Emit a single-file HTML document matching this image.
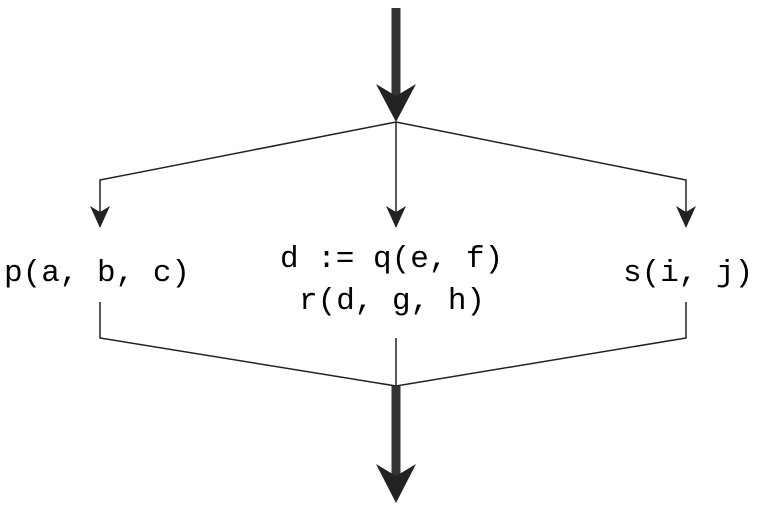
<!DOCTYPE html>
<html><head><style>
html,body{margin:0;padding:0;background:#fff;width:760px;height:510px;overflow:hidden}
text{font-family:"Liberation Mono",monospace;font-size:31px;fill:#000}
</style></head><body>
<svg width="760" height="510" viewBox="0 0 760 510" xmlns="http://www.w3.org/2000/svg">
<g stroke="#222" fill="none" stroke-width="1.5">
<polyline points="100,218 100,180 396,122 686,180 686,218"/>
<line x1="396" y1="122" x2="396" y2="218"/>
<polyline points="100,302 100,338 396,386 686,338 686,302"/>
<line x1="396" y1="338" x2="396" y2="390"/>
</g>
<line x1="396" y1="8" x2="396" y2="100" stroke="#333" stroke-width="9"/>
<polygon points="376,84 396,96 416,84 396,122" fill="#222"/>
<line x1="396" y1="386" x2="396" y2="480" stroke="#333" stroke-width="9"/>
<polygon points="376,464 396,476 416,464 396,503" fill="#222"/>
<g fill="#222">
<polygon points="90,206 100,212 110,206 100,228"/>
<polygon points="386,206 396,212 406,206 396,228"/>
<polygon points="676,206 686,212 696,206 686,228"/>
</g>
<text x="4" y="281">p(a, b, c)</text>
<text x="280" y="267">d := q(e, f)</text>
<text x="299" y="309">r(d, g, h)</text>
<text x="623" y="281">s(i, j)</text>
</svg>
</body></html>
